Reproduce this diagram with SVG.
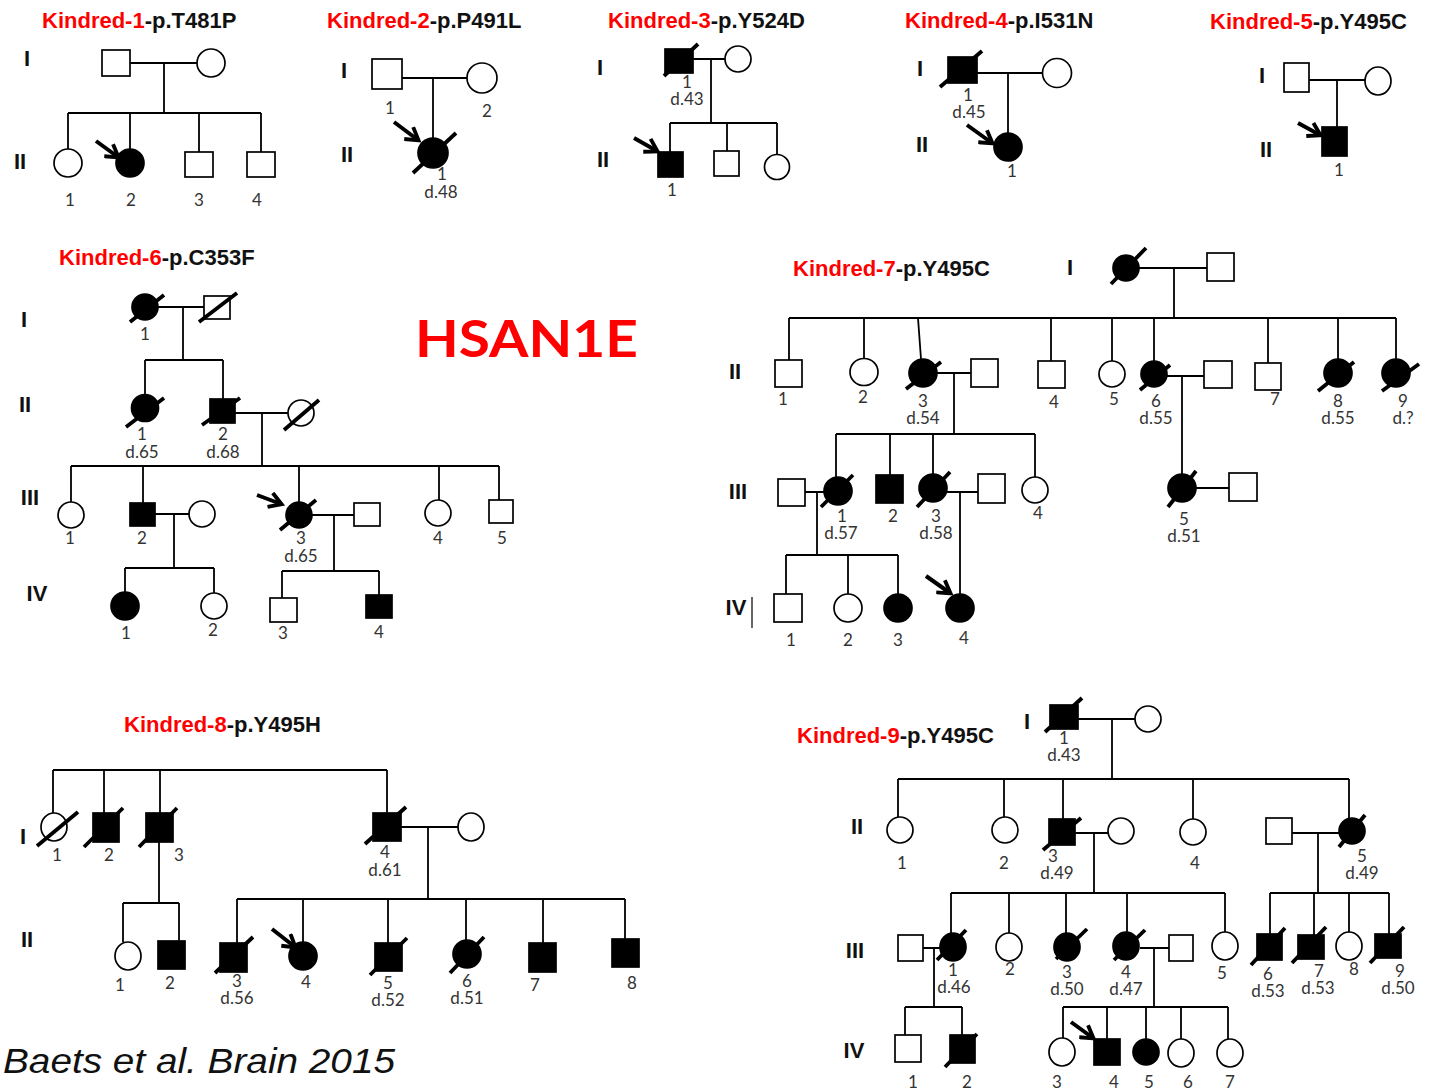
<svg xmlns="http://www.w3.org/2000/svg" width="1430" height="1090" viewBox="0 0 1430 1090">
<style>
  .ln{stroke:#000;stroke-width:1.8;fill:none}
  .s{fill:#fff;stroke:#000;stroke-width:1.7}
  .a{fill:#000;stroke:#000;stroke-width:1.7}
  .dz{stroke:#000;stroke-width:3.8;fill:none}
  .thin{stroke:#000;stroke-width:1.2}
  .arr{stroke:#000;stroke-width:4;fill:none;marker-end:url(#ah)}
  .n{font-family:Lato,"Liberation Sans",sans-serif;font-size:17px;fill:#333;text-anchor:middle}
  .g{font-family:"Liberation Sans",Arial,sans-serif;font-weight:bold;font-size:22px;fill:#111;text-anchor:middle}
  .t{font-family:"Liberation Sans",Arial,sans-serif;font-weight:bold;font-size:22px;fill:#111}
  .r{fill:#f00}
</style>
<defs>
  <marker id="ah" viewBox="0 0 14 14" markerWidth="18" markerHeight="18" refX="10.5" refY="7" orient="auto" markerUnits="userSpaceOnUse">
    <path d="M1.5,1.2 L11,7 L1.5,12.8" fill="none" stroke="#000" stroke-width="3"/>
  </marker>
</defs>
<rect width="1430" height="1090" fill="#fff"/>

<!-- headings -->
<g id="titles">
  <text class="t" x="42" y="28"><tspan class="r">Kindred-1</tspan>-p.T481P</text>
  <text class="t" x="327" y="28"><tspan class="r">Kindred-2</tspan>-p.P491L</text>
  <text class="t" x="608" y="28"><tspan class="r">Kindred-3</tspan>-p.Y524D</text>
  <text class="t" x="905" y="28"><tspan class="r">Kindred-4</tspan>-p.I531N</text>
  <text class="t" x="1210" y="29"><tspan class="r">Kindred-5</tspan>-p.Y495C</text>
  <text class="t" x="59" y="265"><tspan class="r">Kindred-6</tspan>-p.C353F</text>
  <text class="t" x="793" y="276"><tspan class="r">Kindred-7</tspan>-p.Y495C</text>
  <text class="t" x="124" y="732"><tspan class="r">Kindred-8</tspan>-p.Y495H</text>
  <text class="t" x="797" y="743"><tspan class="r">Kindred-9</tspan>-p.Y495C</text>
  <text x="415" y="357" font-family="Lato,'Open Sans',sans-serif" font-weight="bold" font-size="52" fill="#f00" textLength="223" lengthAdjust="spacingAndGlyphs">HSAN1E</text>
  <text x="3" y="1073" font-family="'Liberation Sans',Arial,sans-serif" font-style="italic" font-size="35" fill="#111" textLength="392" lengthAdjust="spacingAndGlyphs">Baets et al. Brain 2015</text>
</g>

<!-- generation numerals -->
<g id="generations">
  <text class="g" x="27" y="66">I</text><text class="g" x="20" y="169">II</text>
  <text class="g" x="344" y="78">I</text><text class="g" x="347" y="162">II</text>
  <text class="g" x="600" y="75">I</text><text class="g" x="603" y="167">II</text>
  <text class="g" x="920" y="76">I</text><text class="g" x="922" y="152">II</text>
  <text class="g" x="1262" y="83">I</text><text class="g" x="1266" y="157">II</text>
  <text class="g" x="24" y="327">I</text><text class="g" x="25" y="412">II</text><text class="g" x="30" y="505">III</text><text class="g" x="37" y="601">IV</text>
  <text class="g" x="1070" y="275">I</text><text class="g" x="735" y="379">II</text><text class="g" x="738" y="499">III</text><text class="g" x="736" y="615">IV</text>
  <line class="thin" x1="752" y1="597" x2="752" y2="628"/>
  <text class="g" x="23" y="844">I</text><text class="g" x="27" y="947">II</text>
  <text class="g" x="1027" y="729">I</text><text class="g" x="857" y="834">II</text><text class="g" x="855" y="958">III</text><text class="g" x="854" y="1058">IV</text>
</g>

<!-- lines of descent and partnership -->
<g id="connectors">
  <path id="c-k1" class="ln" d="M130,63 H197 M164,63 V113 M68,113 H261 M68,113 V149 M130,113 V149 M199,113 V152 M261,113 V152"/>
  <path id="c-k2" class="ln" d="M402,78 H467 M433,78 V138"/>
  <path id="c-k3" class="ln" d="M693,59 H725 M711,59 V123 M670,123 H777 M670,123 V152 M727,123 V151 M777,123 V154"/>
  <path id="c-k4" class="ln" d="M977,73 H1043 M1008,73 V133"/>
  <path id="c-k5" class="ln" d="M1309,80 H1365 M1337,80 V127"/>
  <path id="c-k6" class="ln" d="M158,307 H204 M183,307 V360 M145,360 H223 M145,360 V395 M223,360 V399 M235,413 H288 M262,413 V466 M71,466 H499 M71,466 V502 M143,466 V503 M299,466 V502 M439,466 V500 M499,466 V500 M155,514 H189 M174,514 V568 M125,568 H214 M125,568 V592 M214,568 V593 M312,515 H354 M334,515 V571 M282,571 H379 M282,571 V598 M379,571 V595"/>
  <path id="c-k7" class="ln" d="M1139,268 H1207 M1174,268 V318 M789,318 H1396 M789,318 V360 M864,318 V359 M918,318 L921,359 M1051,318 V361 M1112,318 V361 M1154,318 V361 M1268,318 V363 M1338,318 V359 M1396,318 V359 M937,373 H971 M954,373 V434 M836,434 H1035 M836,434 V477 M890,434 V475 M933,434 V474 M1035,434 V477 M1167,376 H1204 M1182,376 V474 M805,492 H824 M817,492 V555 M786,555 H898 M786,555 V594 M848,555 V594 M898,555 V594 M946,492 H978 M960,492 V594 M1196,488 H1229"/>
  <path id="c-k8" class="ln" d="M53,770 H387 M53,770 V813 M104,770 V813 M160,770 V813 M387,770 V813 M159,842 V903 M123,903 H179 M123,903 V942 M179,903 V941 M401,827 H458 M428,827 V899 M237,899 H625 M237,899 V943 M303,899 V942 M388,899 V943 M466,899 V940 M543,899 V943 M625,899 V939"/>
  <path id="c-k9" class="ln" d="M1078,719 H1135 M1112,719 V779 M898,779 H1349 M898,779 V817 M1004,779 V817 M1063,779 V819 M1193,779 V819 M1349,779 V818 M1075,833 H1108 M1094,833 V893 M1292,833 H1339 M1318,833 V893 M951,893 H1225 M951,893 V933 M1009,893 V933 M1066,893 V933 M1127,893 V932 M1225,893 V932 M1270,893 H1389 M1270,893 V934 M1314,893 V935 M1349,893 V932 M1389,893 V934 M923,948 H940 M934,948 V1007 M905,1007 H962 M905,1007 V1035 M962,1007 V1035 M1140,948 H1169 M1154,948 V1007 M1063,1007 H1228 M1063,1007 V1038 M1107,1007 V1039 M1146,1007 V1039 M1181,1007 V1039 M1228,1007 V1039"/>
</g>

<!-- proband arrows -->
<g id="probands">
  <path class="arr" d="M96,141 L118,157"/>
  <path class="arr" d="M394,122 L418,140"/>
  <path class="arr" d="M634,138 L657,151"/>
  <path class="arr" d="M967,125 L992,143"/>
  <path class="arr" d="M1298,123 L1320,135"/>
  <path class="arr" d="M257,495 L281,504"/>
  <path class="arr" d="M926,576 L950,593"/>
  <path class="arr" d="M272,929 L295,947"/>
  <path class="arr" d="M1071,1022 L1093,1038"/>
</g>

<!-- Kindred 1 -->
<g id="k1">
  <g id="k1-I1"><rect class="s" x="102" y="50" width="28" height="26"/></g>
  <g id="k1-I2"><circle class="s" cx="211" cy="63" r="14"/></g>
  <g id="k1-II1"><circle class="s" cx="68" cy="163" r="14"/><text class="n" x="70" y="206">1</text></g>
  <g id="k1-II2"><circle class="a" cx="130" cy="163" r="14"/><text class="n" x="131" y="206">2</text></g>
  <g id="k1-II3"><rect class="s" x="185" y="152" width="28" height="25"/><text class="n" x="199" y="206">3</text></g>
  <g id="k1-II4"><rect class="s" x="247" y="152" width="28" height="25"/><text class="n" x="257" y="206">4</text></g>
</g>

<!-- Kindred 2 -->
<g id="k2">
  <g id="k2-I1"><rect class="s" x="372" y="59" width="30" height="30"/><text class="n" x="390" y="114">1</text></g>
  <g id="k2-I2"><circle class="s" cx="482" cy="78" r="15"/><text class="n" x="487" y="117">2</text></g>
  <g id="k2-II1"><circle class="a" cx="433" cy="153" r="15"/><line class="dz" x1="413" y1="173" x2="456" y2="133"/><text class="n" x="442" y="180">1</text><text class="n" x="441" y="198">d.48</text></g>
</g>

<!-- Kindred 3 -->
<g id="k3">
  <g id="k3-I1"><rect class="a" x="665" y="49" width="28" height="24"/><line class="dz" x1="664" y1="76" x2="698" y2="44"/><text class="n" x="687" y="88">1</text><text class="n" x="687" y="105">d.43</text></g>
  <g id="k3-I2"><circle class="s" cx="738" cy="59" r="13"/></g>
  <g id="k3-II1"><rect class="a" x="658" y="152" width="25" height="25"/><text class="n" x="672" y="196">1</text></g>
  <g id="k3-II2"><rect class="s" x="714" y="151" width="25" height="25"/></g>
  <g id="k3-II3"><circle class="s" cx="777" cy="167" r="12.5"/></g>
</g>

<!-- Kindred 4 -->
<g id="k4">
  <g id="k4-I1"><rect class="a" x="948" y="57" width="29" height="26"/><line class="dz" x1="940" y1="87" x2="982" y2="51"/><text class="n" x="968" y="101">1</text><text class="n" x="969" y="118">d.45</text></g>
  <g id="k4-I2"><circle class="s" cx="1057" cy="73" r="14.5"/></g>
  <g id="k4-II1"><circle class="a" cx="1008" cy="147" r="14"/><text class="n" x="1012" y="177">1</text></g>
</g>

<!-- Kindred 5 -->
<g id="k5">
  <g id="k5-I1"><rect class="s" x="1284" y="63" width="25" height="29"/></g>
  <g id="k5-I2"><ellipse class="s" cx="1378" cy="81" rx="13" ry="14"/></g>
  <g id="k5-II1"><rect class="a" x="1322" y="127" width="25" height="29"/><text class="n" x="1339" y="176">1</text></g>
</g>

<!-- Kindred 6 -->
<g id="k6">
  <g id="k6-I1"><circle class="a" cx="145" cy="307" r="13"/><line class="dz" x1="130" y1="322" x2="164" y2="295"/><text class="n" x="145" y="340">1</text></g>
  <g id="k6-I2"><rect class="s" x="204" y="296" width="26" height="23"/><line class="dz" x1="199" y1="322" x2="237" y2="293"/></g>
  <g id="k6-II1"><circle class="a" cx="145" cy="408" r="13.5"/><line class="dz" x1="126" y1="427" x2="164" y2="398"/><text class="n" x="142" y="440">1</text><text class="n" x="142" y="458">d.65</text></g>
  <g id="k6-II2"><rect class="a" x="210" y="399" width="25" height="24"/><line class="dz" x1="202" y1="425" x2="240" y2="398"/><text class="n" x="223" y="440">2</text><text class="n" x="223" y="458">d.68</text></g>
  <g id="k6-II3"><circle class="s" cx="301" cy="413" r="13"/><line class="dz" x1="284" y1="430" x2="319" y2="400"/></g>
  <g id="k6-III1"><circle class="s" cx="71" cy="515" r="13"/><text class="n" x="70" y="544">1</text></g>
  <g id="k6-III2"><rect class="a" x="130" y="503" width="25" height="23"/><text class="n" x="142" y="544">2</text></g>
  <g id="k6-III2s"><circle class="s" cx="202" cy="514" r="13"/></g>
  <g id="k6-III3"><circle class="a" cx="299" cy="515" r="13"/><line class="dz" x1="280" y1="530" x2="316" y2="500"/><text class="n" x="301" y="544">3</text><text class="n" x="301" y="562">d.65</text></g>
  <g id="k6-III3s"><rect class="s" x="354" y="503" width="26" height="23"/></g>
  <g id="k6-III4"><circle class="s" cx="438" cy="513" r="13"/><text class="n" x="438" y="544">4</text></g>
  <g id="k6-III5"><rect class="s" x="489" y="500" width="24" height="23"/><text class="n" x="502" y="544">5</text></g>
  <g id="k6-IV1"><circle class="a" cx="125" cy="606" r="14"/><text class="n" x="126" y="639">1</text></g>
  <g id="k6-IV2"><circle class="s" cx="214" cy="606" r="13"/><text class="n" x="213" y="636">2</text></g>
  <g id="k6-IV3"><rect class="s" x="270" y="598" width="27" height="24"/><text class="n" x="283" y="639">3</text></g>
  <g id="k6-IV4"><rect class="a" x="366" y="595" width="26" height="23"/><text class="n" x="379" y="638">4</text></g>
</g>

<!-- Kindred 7 -->
<g id="k7">
  <g id="k7-I1"><circle class="a" cx="1126" cy="268" r="13"/><line class="dz" x1="1111" y1="284" x2="1146" y2="248"/></g>
  <g id="k7-I2"><rect class="s" x="1207" y="253" width="27" height="28"/></g>
  <g id="k7-II1"><rect class="s" x="775" y="360" width="27" height="27"/><text class="n" x="783" y="405">1</text></g>
  <g id="k7-II2"><ellipse class="s" cx="864" cy="372" rx="14" ry="13.5"/><text class="n" x="863" y="403">2</text></g>
  <g id="k7-II3"><circle class="a" cx="923" cy="373" r="14"/><line class="dz" x1="906" y1="389" x2="941" y2="362"/><text class="n" x="923" y="407">3</text><text class="n" x="923" y="424">d.54</text></g>
  <g id="k7-II3s"><rect class="s" x="971" y="359" width="27" height="28"/></g>
  <g id="k7-II4"><rect class="s" x="1038" y="361" width="27" height="27"/><text class="n" x="1054" y="408">4</text></g>
  <g id="k7-II5"><circle class="s" cx="1112" cy="374" r="13"/><text class="n" x="1114" y="405">5</text></g>
  <g id="k7-II6"><circle class="a" cx="1154" cy="374" r="13"/><line class="dz" x1="1140" y1="390" x2="1170" y2="365"/><text class="n" x="1156" y="407">6</text><text class="n" x="1156" y="424">d.55</text></g>
  <g id="k7-II6s"><rect class="s" x="1204" y="361" width="28" height="27"/></g>
  <g id="k7-II7"><rect class="s" x="1255" y="363" width="26" height="27"/><text class="n" x="1275" y="405">7</text></g>
  <g id="k7-II8"><circle class="a" cx="1338" cy="373" r="14"/><line class="dz" x1="1318" y1="391" x2="1354" y2="362"/><text class="n" x="1338" y="407">8</text><text class="n" x="1338" y="424">d.55</text></g>
  <g id="k7-II9"><circle class="a" cx="1396" cy="373" r="14"/><line class="dz" x1="1382" y1="391" x2="1419" y2="364"/><text class="n" x="1403" y="407">9</text><text class="n" x="1403" y="424">d.?</text></g>
  <g id="k7-III1s"><rect class="s" x="778" y="479" width="27" height="27"/></g>
  <g id="k7-III1"><circle class="a" cx="838" cy="491" r="14"/><line class="dz" x1="821" y1="507" x2="853" y2="475"/><text class="n" x="842" y="522">1</text><text class="n" x="841" y="539">d.57</text></g>
  <g id="k7-III2"><rect class="a" x="876" y="475" width="27" height="28"/><text class="n" x="893" y="522">2</text></g>
  <g id="k7-III3"><circle class="a" cx="933" cy="488" r="14"/><line class="dz" x1="917" y1="507" x2="950" y2="472"/><text class="n" x="936" y="522">3</text><text class="n" x="936" y="539">d.58</text></g>
  <g id="k7-III3s"><rect class="s" x="978" y="474" width="27" height="29"/></g>
  <g id="k7-III4"><circle class="s" cx="1035" cy="490" r="13"/><text class="n" x="1038" y="519">4</text></g>
  <g id="k7-III5"><circle class="a" cx="1182" cy="488" r="14"/><line class="dz" x1="1168" y1="507" x2="1196" y2="471"/><text class="n" x="1184" y="525">5</text><text class="n" x="1184" y="542">d.51</text></g>
  <g id="k7-III5s"><rect class="s" x="1229" y="473" width="28" height="28"/></g>
  <g id="k7-IV1"><rect class="s" x="774" y="594" width="28" height="28"/><text class="n" x="791" y="646">1</text></g>
  <g id="k7-IV2"><circle class="s" cx="848" cy="608" r="14"/><text class="n" x="848" y="646">2</text></g>
  <g id="k7-IV3"><circle class="a" cx="898" cy="608" r="14"/><text class="n" x="898" y="646">3</text></g>
  <g id="k7-IV4"><circle class="a" cx="960" cy="608" r="14"/><text class="n" x="964" y="644">4</text></g>
</g>

<!-- Kindred 8 -->
<g id="k8">
  <g id="k8-I1"><ellipse class="s" cx="54" cy="827" rx="13" ry="14"/><line class="dz" x1="37" y1="846" x2="78" y2="812"/><text class="n" x="57" y="861">1</text></g>
  <g id="k8-I2"><rect class="a" x="93" y="813" width="26" height="29"/><line class="dz" x1="84" y1="847" x2="123" y2="808"/><text class="n" x="109" y="861">2</text></g>
  <g id="k8-I3"><rect class="a" x="146" y="813" width="27" height="29"/><line class="dz" x1="139" y1="847" x2="177" y2="808"/><text class="n" x="179" y="861">3</text></g>
  <g id="k8-I4"><rect class="a" x="373" y="813" width="28" height="28"/><line class="dz" x1="365" y1="844" x2="406" y2="807"/><text class="n" x="385" y="858">4</text><text class="n" x="385" y="876">d.61</text></g>
  <g id="k8-I4s"><ellipse class="s" cx="471" cy="827" rx="13" ry="14"/></g>
  <g id="k8-II1"><ellipse class="s" cx="128" cy="956" rx="13" ry="14"/><text class="n" x="120" y="991">1</text></g>
  <g id="k8-II2"><rect class="a" x="158" y="941" width="27" height="28"/><text class="n" x="170" y="989">2</text></g>
  <g id="k8-II3"><rect class="a" x="220" y="943" width="27" height="29"/><line class="dz" x1="215" y1="973" x2="253" y2="937"/><text class="n" x="237" y="987">3</text><text class="n" x="237" y="1004">d.56</text></g>
  <g id="k8-II4"><circle class="a" cx="303" cy="956" r="14"/><text class="n" x="306" y="988">4</text></g>
  <g id="k8-II5"><rect class="a" x="375" y="943" width="27" height="28"/><line class="dz" x1="370" y1="975" x2="407" y2="938"/><text class="n" x="388" y="989">5</text><text class="n" x="388" y="1006">d.52</text></g>
  <g id="k8-II6"><circle class="a" cx="467" cy="954" r="14"/><line class="dz" x1="450" y1="973" x2="484" y2="937"/><text class="n" x="467" y="987">6</text><text class="n" x="467" y="1004">d.51</text></g>
  <g id="k8-II7"><rect class="a" x="529" y="943" width="27" height="29"/><text class="n" x="535" y="991">7</text></g>
  <g id="k8-II8"><rect class="a" x="612" y="939" width="27" height="28"/><text class="n" x="632" y="989">8</text></g>
</g>

<!-- Kindred 9 -->
<g id="k9">
  <g id="k9-I1"><rect class="a" x="1050" y="705" width="28" height="24"/><line class="dz" x1="1045" y1="732" x2="1082" y2="698"/><text class="n" x="1064" y="744">1</text><text class="n" x="1064" y="761">d.43</text></g>
  <g id="k9-I2"><circle class="s" cx="1148" cy="719" r="13"/></g>
  <g id="k9-II1"><circle class="s" cx="900" cy="830" r="13"/><text class="n" x="902" y="869">1</text></g>
  <g id="k9-II2"><circle class="s" cx="1005" cy="830" r="13"/><text class="n" x="1004" y="869">2</text></g>
  <g id="k9-II3"><rect class="a" x="1049" y="819" width="26" height="26"/><line class="dz" x1="1043" y1="850" x2="1081" y2="818"/><text class="n" x="1053" y="862">3</text><text class="n" x="1057" y="879">d.49</text></g>
  <g id="k9-II3s"><circle class="s" cx="1121" cy="831" r="13"/></g>
  <g id="k9-II4"><circle class="s" cx="1193" cy="832" r="13"/><text class="n" x="1195" y="869">4</text></g>
  <g id="k9-II5s"><rect class="s" x="1266" y="818" width="26" height="26"/></g>
  <g id="k9-II5"><circle class="a" cx="1352" cy="831" r="13"/><line class="dz" x1="1339" y1="847" x2="1365" y2="815"/><text class="n" x="1362" y="862">5</text><text class="n" x="1362" y="879">d.49</text></g>
  <g id="k9-III1s"><rect class="s" x="898" y="935" width="25" height="26"/></g>
  <g id="k9-III1"><ellipse class="a" cx="953" cy="947" rx="13" ry="14"/><line class="dz" x1="937" y1="960" x2="966" y2="930"/><text class="n" x="953" y="976">1</text><text class="n" x="954" y="993">d.46</text></g>
  <g id="k9-III2"><ellipse class="s" cx="1009" cy="947" rx="13" ry="14"/><text class="n" x="1010" y="975">2</text></g>
  <g id="k9-III3"><ellipse class="a" cx="1067" cy="947" rx="13" ry="14"/><line class="dz" x1="1056" y1="959" x2="1087" y2="929"/><text class="n" x="1067" y="978">3</text><text class="n" x="1067" y="995">d.50</text></g>
  <g id="k9-III4"><ellipse class="a" cx="1126" cy="946" rx="13" ry="14"/><line class="dz" x1="1114" y1="960" x2="1145" y2="930"/><text class="n" x="1126" y="978">4</text><text class="n" x="1126" y="995">d.47</text></g>
  <g id="k9-III4s"><rect class="s" x="1169" y="935" width="24" height="26"/></g>
  <g id="k9-III5"><ellipse class="s" cx="1225" cy="946" rx="13" ry="14"/><text class="n" x="1222" y="979">5</text></g>
  <g id="k9-III6"><rect class="a" x="1257" y="934" width="25" height="26"/><line class="dz" x1="1251" y1="965" x2="1285" y2="928"/><text class="n" x="1268" y="980">6</text><text class="n" x="1268" y="997">d.53</text></g>
  <g id="k9-III7"><rect class="a" x="1298" y="935" width="26" height="24"/><line class="dz" x1="1292" y1="963" x2="1326" y2="927"/><text class="n" x="1319" y="977">7</text><text class="n" x="1318" y="994">d.53</text></g>
  <g id="k9-III8"><ellipse class="s" cx="1349" cy="946" rx="13" ry="14"/><text class="n" x="1354" y="975">8</text></g>
  <g id="k9-III9"><rect class="a" x="1375" y="934" width="26" height="24"/><line class="dz" x1="1370" y1="963" x2="1404" y2="927"/><text class="n" x="1400" y="977">9</text><text class="n" x="1398" y="994">d.50</text></g>
  <g id="k9-IV1"><rect class="s" x="895" y="1035" width="26" height="27"/><text class="n" x="913" y="1088">1</text></g>
  <g id="k9-IV2"><rect class="a" x="950" y="1035" width="25" height="28"/><line class="dz" x1="945" y1="1067" x2="977" y2="1034"/><text class="n" x="967" y="1088">2</text></g>
  <g id="k9-IV3"><ellipse class="s" cx="1062" cy="1052" rx="13" ry="14"/><text class="n" x="1057" y="1088">3</text></g>
  <g id="k9-IV4"><rect class="a" x="1094" y="1039" width="26" height="26"/><text class="n" x="1114" y="1088">4</text></g>
  <g id="k9-IV5"><circle class="a" cx="1146" cy="1052" r="13"/><text class="n" x="1149" y="1088">5</text></g>
  <g id="k9-IV6"><ellipse class="s" cx="1181" cy="1053" rx="13" ry="14"/><text class="n" x="1188" y="1088">6</text></g>
  <g id="k9-IV7"><ellipse class="s" cx="1230" cy="1053" rx="13" ry="14"/><text class="n" x="1230" y="1088">7</text></g>
</g>
</svg>
